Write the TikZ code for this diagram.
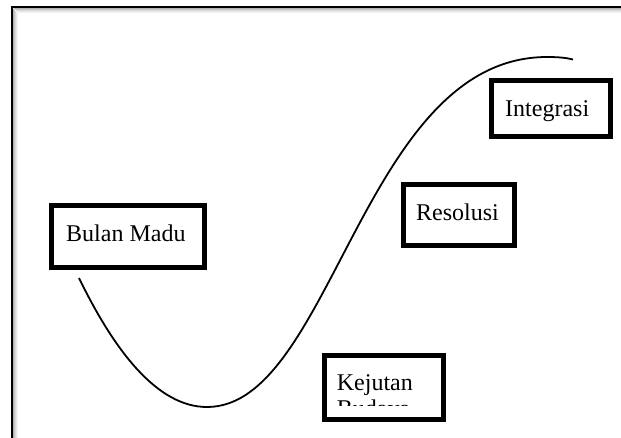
\documentclass[tikz,border=0pt]{standalone}
\usepackage{fontspec}
\setmainfont{Liberation Serif}
\begin{document}
\begin{tikzpicture}[x=1pt,y=-1pt,
  stagebox/.style={draw=black, line width=5.2pt, fill=none, rectangle, inner sep=0pt},
  lbl/.style={anchor=base west, inner sep=0pt, font=\fontsize{24}{26}\selectfont},
  curve/.style={draw=black, line width=1.8pt}]
\useasboundingbox (0,0) rectangle (621,437);
\clip (0,0) rectangle (621,437);
\fill[white] (0,0) rectangle (621,437);
% frame shadow
\foreach \i/\c in {1/30,2/22,3/15,4/9,5/5}{
  \draw[line width=1pt, black!\c] (12.8+\i,7.5+\i) -- (12.8+\i,440);
  \draw[line width=1pt, black!\c] (12.8+\i,7.5+\i) -- (625,7.5+\i);
}
% outer frame
\draw[line width=2pt, black] (12.3,450) -- (12.3,7) -- (630,7);
% boxes
\node[stagebox, minimum width=153pt, minimum height=62.3pt] (bm) at (128,236.35) {};
\node[stagebox, minimum width=119pt, minimum height=56.3pt] (ig) at (551,108.35) {};
\node[stagebox, minimum width=111pt, minimum height=61.3pt] (rs) at (459,214.85) {};
\node[stagebox, minimum width=119.3pt, minimum height=64pt] (kb) at (383.85,387.2) {};
% labels
\node[lbl] (bmt) at (66,241) {Bulan Madu};
\node[lbl] (igt) at (505,116) {Integrasi};
\node[lbl] (rst) at (416,220) {Resolusi};
\begin{scope}
  \clip (327,358) rectangle (440,405.8);
  \node[lbl] (kbt1) at (336.7,390.7) {Kejutan};
  \node[lbl] (kbt2) at (336.7,416.7) {Budaya};
\end{scope}
% curve
\coordinate (cs) at (79,278);
\coordinate (cmin) at (207,407);
\coordinate (cmax) at (547,57);
\coordinate (ce) at (573,59.5);
\draw[curve] (cs) .. controls (114,350) and (157,407) .. (cmin)
  .. controls (332,407) and (363,57) .. (cmax)
  .. controls (560,57) and (567,58) .. (ce);
\end{tikzpicture}
\end{document}
